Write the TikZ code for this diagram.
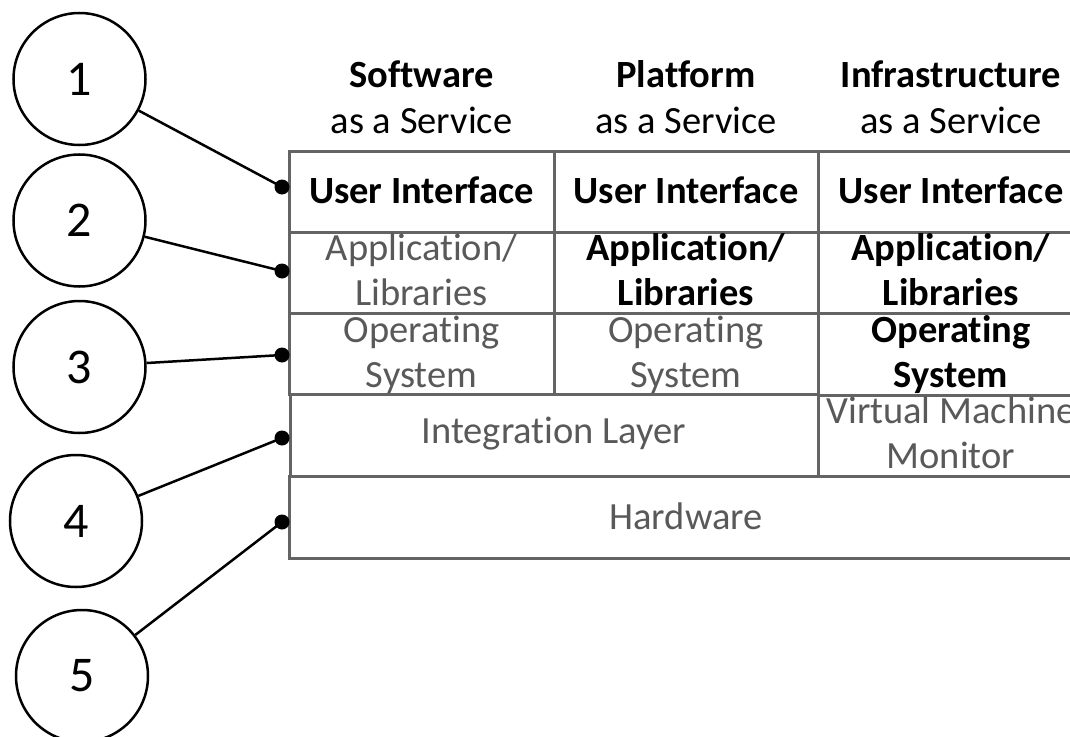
\documentclass[tikz,border=0pt]{standalone}
\usepackage{fontspec}
\setmainfont[Ligatures=NoCommon]{Carlito}
\definecolor{framegray}{HTML}{646464}
\definecolor{txtgray}{HTML}{595959}
\begin{document}
\begin{tikzpicture}[x=1bp,y=-1bp,
  cell/.style={draw=framegray,line width=3bp},
  lbl/.style={anchor=base,align=center,inner sep=0pt,font=\fontsize{38.5bp}{45bp}\selectfont},
  on/.style={lbl,text=black,font=\fontsize{38.5bp}{45bp}\selectfont\bfseries},
  off/.style={lbl,text=txtgray},
  head/.style={lbl,text=black},
  numcirc/.style={circle,draw=black,line width=2.5bp,minimum size=132bp,inner sep=0pt,font=\fontsize{50bp}{60bp}\selectfont},
  link/.style={draw=black,line width=2.5bp},
  dot/.style={fill=black}
]
\useasboundingbox (0,0) rectangle (1070,737);
\clip (0,0) rectangle (1070,737);

% table cells
\draw[cell] (289,151) rectangle (554,232);
\draw[cell] (554,151) rectangle (818,232);
\draw[cell] (818,151) rectangle (1084,232);
\draw[cell] (289,232) rectangle (554,313);
\draw[cell] (554,232) rectangle (818,313);
\draw[cell] (818,232) rectangle (1084,313);
\draw[cell] (289,313) rectangle (554,394);
\draw[cell] (554,313) rectangle (818,394);
\draw[cell] (818,313) rectangle (1084,395);
\draw[cell] (290,394) rectangle (818,476);
\draw[cell] (818,395) rectangle (1084,476);
\draw[cell] (289,476) rectangle (1084,558);

% headers (base = last line)
\node[head] (h1) at (421.5,133) {\bfseries Software\\as a Service};
\node[head] (h2) at (686,133) {\bfseries Platform\\as a Service};
\node[head] (h3) at (951,133) {\bfseries Infrastructure\\as a Service};

% row 1
\node[on] (ui1) at (421.5,203) {User Interface};
\node[on] (ui2) at (686,203) {User Interface};
\node[on] (ui3) at (951,203) {User Interface};
% row 2
\node[off] (app1) at (421.5,305) {Application/\\Libraries};
\node[on] (app2) at (686,305) {Application/\\Libraries};
\node[on] (app3) at (951,305) {Application/\\Libraries};
% row 3
\node[off] (os1) at (421.5,387) {Operating\\System};
\node[off] (os2) at (686,387) {Operating\\System};
\node[on] (os3) at (951,387) {Operating\\System};
% row 4
\node[off] (int) at (554,443) {Integration Layer};
\node[off] (vmm) at (951,468) {Virtual Machine\\Monitor};
% row 5
\node[off] (hw) at (686,529) {Hardware};

% numbered circles
\node[numcirc] (c1) at (79.5,79) {1};
\node[numcirc] (c2) at (79.5,220.5) {2};
\node[numcirc] (c3) at (79.5,367) {3};
\node[numcirc] (c4) at (76,521) {4};
\node[numcirc] (c5) at (82,676) {5};

% connector end points
\coordinate (d1) at (282,187);
\coordinate (d2) at (282,271);
\coordinate (d3) at (282,355);
\coordinate (d4) at (282,438);
\coordinate (d5) at (282,522);

\draw[link] (c1) -- (d1);
\draw[link] (c2) -- (d2);
\draw[link] (c3) -- (d3);
\draw[link] (c4) -- (d4);
\draw[link] (c5) -- (d5);

\foreach \d in {d1,d2,d3,d4,d5} \fill[dot] (\d) circle[radius=7.5bp];
\end{tikzpicture}
\end{document}
